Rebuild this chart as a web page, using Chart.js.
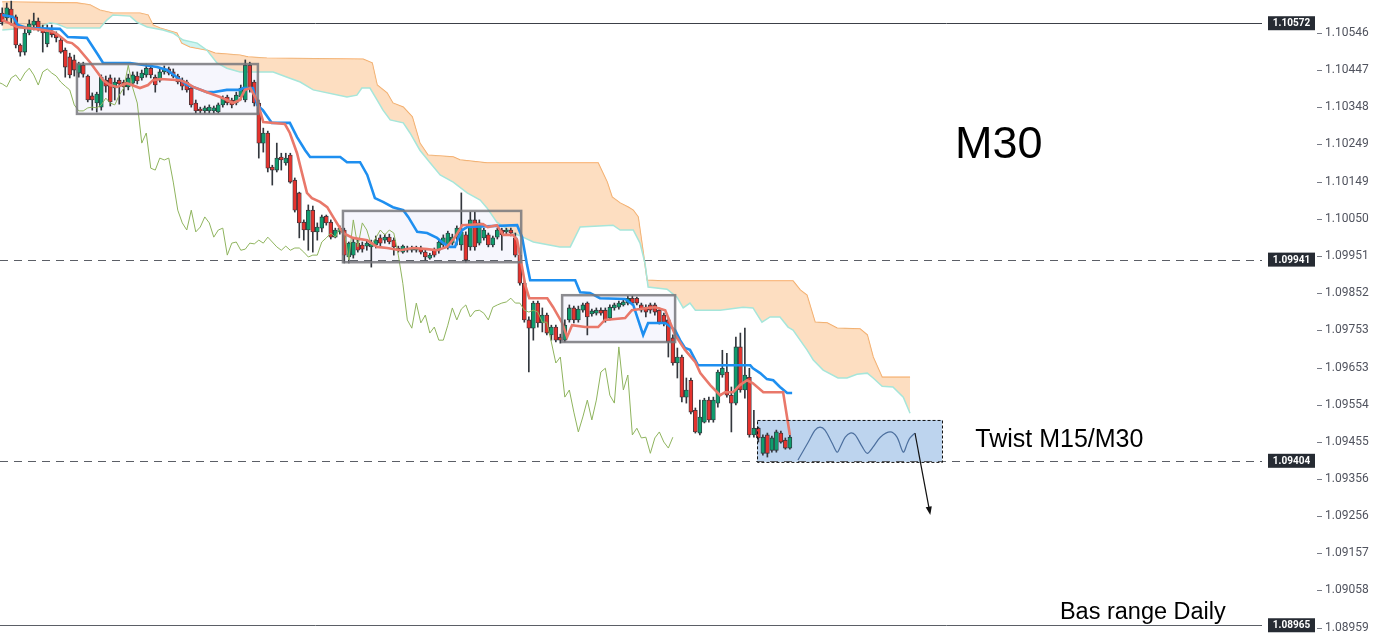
<!DOCTYPE html>
<html>
<head>
<meta charset="utf-8">
<title>EURUSD M30</title>
<script src="https://cdn.jsdelivr.net/npm/chart.js@4.4.1/dist/chart.umd.min.js"></script>
<style>
  html, body { margin: 0; padding: 0; background: #fff; overflow: hidden; }
  canvas { display: block; }
</style>
</head>
<body>
<canvas id="chart" width="1380" height="635"></canvas>
<script>
// price axis ticks and marked levels
const tickValues = [1.10645, 1.10546, 1.10447, 1.10348, 1.10249, 1.10149, 1.10050, 1.09951, 1.09852,
  1.09753, 1.09653, 1.09554, 1.09455, 1.09356, 1.09256, 1.09157, 1.09058, 1.08959];
const levels = [1.10572, 1.09941, 1.09404, 1.08965];

// M30 candles, one per slot
const opens = [
  1.10599, 1.10586, 1.10610, 1.10589, 1.10514, 1.10495, 1.10546, 1.10567, 1.10578, 1.10557,
  1.10517, 1.10549, 1.10543, 1.10527, 1.10500, 1.10482, 1.10474, 1.10439, 1.10460, 1.10431,
  1.10378, 1.10359, 1.10348, 1.10420, 1.10426, 1.10399, 1.10420, 1.10415, 1.10402, 1.10412,
  1.10431, 1.10426, 1.10434, 1.10452, 1.10428, 1.10420, 1.10442, 1.10450, 1.10442, 1.10431,
  1.10420, 1.10415, 1.10399, 1.10359, 1.10343, 1.10338, 1.10338, 1.10338, 1.10335, 1.10354,
  1.10375, 1.10367, 1.10359, 1.10375, 1.10367, 1.10460, 1.10415, 1.10359, 1.10252, 1.10279,
  1.10188, 1.10180, 1.10215, 1.10199, 1.10220, 1.10153, 1.10119, 1.10041, 1.10020, 1.10073,
  1.10015, 1.10025, 1.10057, 1.10041, 1.10001, 1.10015, 1.10020, 1.09948, 1.09953, 1.09985,
  1.09980, 1.09977, 1.09975, 1.09980, 1.09999, 1.09993, 1.10001, 1.09993, 1.09972, 1.09961,
  1.09972, 1.09966, 1.09966, 1.09972, 1.09961, 1.09945, 1.09966, 1.09966, 1.09980, 1.09975,
  1.09985, 1.10001, 1.09980, 1.10007, 1.09975, 1.10047, 1.09985, 1.09999, 1.10007, 1.09980,
  1.10001, 1.10020, 1.10015, 1.10020, 1.09999, 1.09953, 1.09878, 1.09780, 1.09758, 1.09825,
  1.09772, 1.09793, 1.09740, 1.09761, 1.09734, 1.09726, 1.09780, 1.09812, 1.09780, 1.09806,
  1.09825, 1.09796, 1.09798, 1.09806, 1.09806, 1.09785, 1.09812, 1.09814, 1.09820, 1.09825,
  1.09838, 1.09838, 1.09820, 1.09814, 1.09820, 1.09820, 1.09806, 1.09793, 1.09780, 1.09732,
  1.09665, 1.09681, 1.09574, 1.09619, 1.09539, 1.09478, 1.09507, 1.09566, 1.09513, 1.09558,
  1.09633, 1.09641, 1.09579, 1.09558, 1.09708, 1.09593, 1.09627, 1.09473, 1.09491, 1.09424,
  1.09473, 1.09432, 1.09432, 1.09478, 1.09459, 1.09438
];
const highs = [
  1.10613, 1.10626, 1.10631, 1.10594, 1.10517, 1.10557, 1.10581, 1.10599, 1.10586, 1.10567,
  1.10567, 1.10567, 1.10549, 1.10535, 1.10506, 1.10492, 1.10487, 1.10468, 1.10468, 1.10434,
  1.10386, 1.10388, 1.10434, 1.10431, 1.10434, 1.10426, 1.10426, 1.10420, 1.10436, 1.10442,
  1.10442, 1.10447, 1.10463, 1.10460, 1.10434, 1.10452, 1.10458, 1.10455, 1.10450, 1.10436,
  1.10426, 1.10420, 1.10404, 1.10367, 1.10348, 1.10351, 1.10354, 1.10351, 1.10359, 1.10378,
  1.10380, 1.10372, 1.10388, 1.10407, 1.10474, 1.10468, 1.10420, 1.10367, 1.10292, 1.10284,
  1.10193, 1.10252, 1.10225, 1.10225, 1.10225, 1.10159, 1.10121, 1.10047, 1.10087, 1.10084,
  1.10039, 1.10060, 1.10060, 1.10047, 1.10025, 1.10031, 1.10025, 1.09988, 1.09999, 1.09993,
  1.09988, 1.09993, 1.09993, 1.10004, 1.10007, 1.10009, 1.10009, 1.09999, 1.09977, 1.09980,
  1.09977, 1.09977, 1.09977, 1.09977, 1.09966, 1.09958, 1.09972, 1.09993, 1.10007, 1.10017,
  1.10009, 1.10031, 1.10119, 1.10015, 1.10068, 1.10068, 1.10047, 1.10025, 1.10012, 1.10004,
  1.10025, 1.10025, 1.10025, 1.10025, 1.10012, 1.09961, 1.09884, 1.09788, 1.09830, 1.09830,
  1.09812, 1.09798, 1.09766, 1.09766, 1.09742, 1.09780, 1.09820, 1.09817, 1.09817, 1.09825,
  1.09828, 1.09809, 1.09812, 1.09812, 1.09812, 1.09820, 1.09825, 1.09830, 1.09833, 1.09844,
  1.09844, 1.09841, 1.09825, 1.09820, 1.09825, 1.09825, 1.09812, 1.09798, 1.09785, 1.09740,
  1.09705, 1.09686, 1.09625, 1.09625, 1.09545, 1.09566, 1.09571, 1.09574, 1.09574, 1.09646,
  1.09699, 1.09691, 1.09601, 1.09734, 1.09745, 1.09758, 1.09651, 1.09539, 1.09494, 1.09473,
  1.09478, 1.09470, 1.09486, 1.09483, 1.09465, 1.09473
];
const lows = [
  1.10567, 1.10575, 1.10567, 1.10506, 1.10484, 1.10487, 1.10541, 1.10554, 1.10551, 1.10495,
  1.10509, 1.10535, 1.10522, 1.10492, 1.10428, 1.10426, 1.10431, 1.10428, 1.10428, 1.10362,
  1.10340, 1.10335, 1.10340, 1.10388, 1.10351, 1.10367, 1.10356, 1.10380, 1.10394, 1.10404,
  1.10410, 1.10420, 1.10428, 1.10426, 1.10388, 1.10415, 1.10436, 1.10434, 1.10426, 1.10410,
  1.10394, 1.10388, 1.10348, 1.10332, 1.10332, 1.10332, 1.10332, 1.10332, 1.10332, 1.10348,
  1.10354, 1.10346, 1.10354, 1.10367, 1.10362, 1.10388, 1.10351, 1.10212, 1.10228, 1.10175,
  1.10140, 1.10175, 1.10180, 1.10193, 1.10145, 1.10068, 1.09999, 1.09993, 1.09966, 1.09961,
  1.09993, 1.10015, 1.10033, 1.09996, 1.09999, 1.10009, 1.09932, 1.09932, 1.09945, 1.09961,
  1.09961, 1.09966, 1.09921, 1.09972, 1.09977, 1.09985, 1.09983, 1.09953, 1.09961, 1.09958,
  1.09961, 1.09961, 1.09961, 1.09956, 1.09940, 1.09942, 1.09948, 1.09958, 1.09975, 1.09969,
  1.09980, 1.09980, 1.09966, 1.09934, 1.09966, 1.09966, 1.09980, 1.09993, 1.09975, 1.09975,
  1.09996, 1.09966, 1.10009, 1.10004, 1.09948, 1.09873, 1.09774, 1.09641, 1.09726, 1.09761,
  1.09748, 1.09740, 1.09726, 1.09721, 1.09718, 1.09721, 1.09774, 1.09772, 1.09774, 1.09801,
  1.09740, 1.09790, 1.09793, 1.09793, 1.09774, 1.09780, 1.09806, 1.09809, 1.09817, 1.09820,
  1.09820, 1.09820, 1.09801, 1.09788, 1.09798, 1.09793, 1.09769, 1.09764, 1.09681, 1.09659,
  1.09625, 1.09561, 1.09558, 1.09529, 1.09478, 1.09473, 1.09505, 1.09507, 1.09507, 1.09547,
  1.09627, 1.09574, 1.09481, 1.09553, 1.09587, 1.09571, 1.09467, 1.09467, 1.09454, 1.09419,
  1.09414, 1.09427, 1.09427, 1.09451, 1.09435, 1.09435
];
const closes = [
  1.10575, 1.10613, 1.10589, 1.10514, 1.10495, 1.10546, 1.10570, 1.10578, 1.10557, 1.10546,
  1.10549, 1.10541, 1.10533, 1.10495, 1.10455, 1.10434, 1.10447, 1.10463, 1.10436, 1.10367,
  1.10367, 1.10383, 1.10428, 1.10404, 1.10362, 1.10415, 1.10410, 1.10402, 1.10426, 1.10434,
  1.10418, 1.10439, 1.10452, 1.10434, 1.10407, 1.10442, 1.10450, 1.10439, 1.10431, 1.10415,
  1.10404, 1.10394, 1.10354, 1.10338, 1.10338, 1.10346, 1.10348, 1.10346, 1.10354, 1.10372,
  1.10359, 1.10354, 1.10380, 1.10399, 1.10460, 1.10399, 1.10359, 1.10252, 1.10279, 1.10185,
  1.10180, 1.10212, 1.10207, 1.10212, 1.10148, 1.10073, 1.10039, 1.10020, 1.10073, 1.10015,
  1.10028, 1.10055, 1.10039, 1.10001, 1.10020, 1.10025, 1.09953, 1.09985, 1.09988, 1.09966,
  1.09969, 1.09985, 1.09983, 1.09993, 1.09985, 1.10001, 1.09988, 1.09975, 1.09966, 1.09977,
  1.09966, 1.09972, 1.09972, 1.09961, 1.09948, 1.09953, 1.09953, 1.09988, 1.09999, 1.10012,
  1.10001, 1.10025, 1.10015, 1.09940, 1.10047, 1.09975, 1.10039, 1.10020, 1.09980, 1.09999,
  1.10020, 1.10007, 1.10020, 1.10012, 1.09953, 1.09878, 1.09780, 1.09758, 1.09825, 1.09772,
  1.09793, 1.09745, 1.09761, 1.09726, 1.09726, 1.09766, 1.09812, 1.09780, 1.09809, 1.09820,
  1.09788, 1.09804, 1.09806, 1.09798, 1.09780, 1.09814, 1.09820, 1.09825, 1.09828, 1.09838,
  1.09825, 1.09825, 1.09806, 1.09801, 1.09806, 1.09801, 1.09774, 1.09774, 1.09721, 1.09665,
  1.09681, 1.09574, 1.09593, 1.09534, 1.09481, 1.09521, 1.09566, 1.09513, 1.09566, 1.09641,
  1.09651, 1.09579, 1.09558, 1.09708, 1.09593, 1.09633, 1.09473, 1.09491, 1.09465, 1.09467,
  1.09424, 1.09465, 1.09481, 1.09454, 1.09438, 1.09467
];

// Ichimoku lines, [slot, price] at their turning points
const tenkan = [
  [0, 1.10581], [3.3, 1.10562], [5.7, 1.10559], [9.1, 1.10554], [11.3, 1.10549], [12.4, 1.10541],
  [14.4, 1.10522], [15.5, 1.10519], [16.8, 1.10506], [19.5, 1.10468], [21.1, 1.10442], [22.4, 1.10420],
  [23.9, 1.10407], [25.5, 1.10402], [27.7, 1.10412], [30.6, 1.10399], [32.4, 1.10407], [33.5, 1.10420],
  [35.1, 1.10423], [39.5, 1.10420], [41.1, 1.10412], [42.4, 1.10402], [45.5, 1.10388], [48.4, 1.10375],
  [49.9, 1.10367], [51.3, 1.10359], [52.8, 1.10367], [53.9, 1.10394], [55.1, 1.10399], [56.6, 1.10367],
  [58, 1.10308], [62.8, 1.10303], [63.9, 1.10279], [65.5, 1.10225], [66.6, 1.10172], [67.7, 1.10119],
  [68.8, 1.10105], [70.6, 1.10095], [72.2, 1.10081], [73.5, 1.10055], [75.7, 1.10012], [77.9, 1.09999],
  [81.1, 1.09993], [83.3, 1.09975], [85.5, 1.09972], [88.4, 1.09966], [91.3, 1.09972], [94.4, 1.09969],
  [96.6, 1.09966], [98.8, 1.09975], [100.6, 1.10001], [102.2, 1.10033], [106.8, 1.10036], [107.9, 1.10028],
  [109.9, 1.10033], [111.3, 1.10007], [113.5, 1.10007], [114.4, 1.09993], [115.3, 1.09934], [116.2, 1.09873],
  [117.1, 1.09838], [121.1, 1.09838], [122.4, 1.09814], [124.4, 1.09772], [125.5, 1.09734], [126.6, 1.09766],
  [129.5, 1.09761], [132.4, 1.09761], [133.9, 1.09780], [138.4, 1.09785], [139.9, 1.09806], [143.3, 1.09812],
  [145.1, 1.09814], [147.3, 1.09806], [148.8, 1.09761], [149.5, 1.09740], [151.7, 1.09700], [154, 1.09667],
  [155.1, 1.09638], [157.3, 1.09606], [159.5, 1.09579], [160.6, 1.09587], [162.4, 1.09587], [163.9, 1.09606],
  [165.5, 1.09619], [166.8, 1.09611], [169.1, 1.09587], [173.5, 1.09587], [175, 1.09473]
];
const kijun = [
  [0, 1.10594], [2.4, 1.10589], [3.5, 1.10567], [5.5, 1.10559], [12.8, 1.10557], [14.6, 1.10535],
  [18.8, 1.10533], [21.3, 1.10487], [22.4, 1.10466], [28.4, 1.10466], [34.4, 1.10455], [36.6, 1.10447],
  [38.8, 1.10428], [41.1, 1.10407], [42.4, 1.10402], [45.5, 1.10388], [46.8, 1.10388], [49.9, 1.10394],
  [52.8, 1.10394], [53.5, 1.10399], [55.7, 1.10399], [56.6, 1.10354], [57.9, 1.10340], [59.9, 1.10306],
  [63.9, 1.10306], [65.5, 1.10268], [67.3, 1.10233], [68.4, 1.10215], [75.1, 1.10215], [76.6, 1.10201],
  [79.5, 1.10201], [81.1, 1.10167], [82.8, 1.10105], [84.6, 1.10095], [86.8, 1.10081], [89.1, 1.10073],
  [90.2, 1.10055], [92.2, 1.10015], [94.4, 1.10012], [96.6, 1.09999], [98, 1.09985], [99.5, 1.09975],
  [100.6, 1.09975], [101.3, 1.09999], [102.2, 1.10020], [103.3, 1.10028], [114.4, 1.10033], [115.5, 1.10001],
  [116.6, 1.09927], [117.3, 1.09886], [127.3, 1.09886], [128.4, 1.09854], [130.6, 1.09852], [132.8, 1.09838],
  [138.4, 1.09836], [140.2, 1.09820], [142.4, 1.09740], [143.5, 1.09772], [147.3, 1.09772], [149.5, 1.09753],
  [150.6, 1.09726], [151.7, 1.09705], [152.8, 1.09700], [154.6, 1.09659], [166.2, 1.09659], [166.8, 1.09651],
  [168.4, 1.09638], [169.9, 1.09622], [171.3, 1.09619], [172.8, 1.09601], [174.4, 1.09585], [175.5, 1.09585]
];
const spanA = [
  [0, 1.10554], [8.4, 1.10562], [10.6, 1.10573], [12.2, 1.10570], [14.4, 1.10559], [21.7, 1.10559],
  [23.3, 1.10581], [24.6, 1.10594], [28.4, 1.10591], [29.9, 1.10575], [32.2, 1.10562], [35.7, 1.10554],
  [37.9, 1.10546], [40.2, 1.10527], [43.3, 1.10519], [45.5, 1.10500], [47.7, 1.10466], [49.9, 1.10452],
  [52.8, 1.10442], [60.2, 1.10442], [63.3, 1.10428], [66.2, 1.10415], [69.1, 1.10394], [76.6, 1.10375],
  [78.8, 1.10380], [79.9, 1.10399], [81.7, 1.10399], [83.3, 1.10367], [84.6, 1.10340], [86.2, 1.10314],
  [89.1, 1.10306], [90.6, 1.10279], [92.8, 1.10233], [95.1, 1.10199], [97.3, 1.10167], [100.2, 1.10148],
  [103.3, 1.10119], [106.2, 1.10100], [107.7, 1.10079], [109.9, 1.10041], [113.5, 1.10012], [115.7, 1.10001],
  [118, 1.09988], [123.9, 1.09975], [126.2, 1.09975], [128.4, 1.10028], [135.7, 1.10033], [137.3, 1.10020],
  [140.2, 1.10020], [141.7, 1.09985], [142.8, 1.09932], [143.5, 1.09868], [147.7, 1.09862], [149.9, 1.09841],
  [151.3, 1.09812], [152.8, 1.09825], [154, 1.09806], [159.5, 1.09806], [164.6, 1.09814], [166.8, 1.09812],
  [168.8, 1.09774], [170.6, 1.09788], [172.8, 1.09788], [174.6, 1.09761], [175.7, 1.09753], [178.8, 1.09700],
  [180.2, 1.09673], [182.4, 1.09646], [185.7, 1.09625], [187.7, 1.09625], [189.9, 1.09635], [192.2, 1.09638],
  [193.5, 1.09625], [195.5, 1.09603], [197.9, 1.09601], [200.2, 1.09574], [201.7, 1.09531]
];
const spanB = [
  [0, 1.10629], [16.6, 1.10626], [19.5, 1.10621], [21.7, 1.10607], [24.6, 1.10599], [30.6, 1.10599],
  [32.4, 1.10594], [33.5, 1.10567], [35.1, 1.10559], [38.8, 1.10546], [39.9, 1.10519], [41.7, 1.10509],
  [45.5, 1.10500], [47.3, 1.10492], [52.8, 1.10487], [54.6, 1.10482], [58.8, 1.10479], [80.2, 1.10476],
  [82.2, 1.10466], [83.3, 1.10407], [85.5, 1.10386], [86.8, 1.10359], [89.1, 1.10348], [91.1, 1.10322],
  [92.8, 1.10252], [94.6, 1.10220], [100.2, 1.10215], [101.7, 1.10207], [107.7, 1.10199], [132.4, 1.10199],
  [134.4, 1.10148], [135.5, 1.10108], [137.3, 1.10092], [139.1, 1.10081], [140.2, 1.10073], [141.3, 1.10055],
  [143.3, 1.09886], [146.8, 1.09884], [175.7, 1.09884], [177.3, 1.09860], [178.8, 1.09846], [180.6, 1.09774],
  [183.3, 1.09772], [185.5, 1.09758], [190.6, 1.09756], [192.2, 1.09740], [193.5, 1.09681], [195.5, 1.09627],
  [201.7, 1.09627]
];
const chikouShift = 26;

// drawn marks: consolidation boxes [from slot, to slot, top, bottom], twist zone and its sketch
const rangeBoxes = [[16.6, 56.8, 1.10463, 1.10330], [75.7, 115.3, 1.10071, 1.09934], [124.4, 149.5, 1.09846, 1.09721]];
const twistBox = [167.7, 208.8, 1.09513, 1.09401];
const twistPath = [
  [176.8, 1.09406], [179.1, 1.09454], [180.6, 1.09486], [181.7, 1.09494], [182.8, 1.09486], [184.4, 1.09451],
  [185.5, 1.09427], [186.2, 1.09441], [187.3, 1.09467], [188.4, 1.09478], [189.5, 1.09473], [191.1, 1.09441],
  [192.2, 1.09424], [193.5, 1.09441], [195.1, 1.09467], [197.3, 1.09481], [198.8, 1.09467], [200.2, 1.09427],
  [201.1, 1.09451], [201.7, 1.09465], [202.8, 1.09478]
];
const arrow = [[202.8, 1.09478], [206.2, 1.09259]];
const notes = [
  { text: "M30", x: 211.7, y: 1.10212, size: 45 },
  { text: "Twist M15/M30", x: 216.2, y: 1.09441, size: 25 },
  { text: "Bas range Daily", x: 235, y: 1.08981, size: 23.5 }
];

const UP = "#0f9d6e";
const DOWN = "#e5332e";
const EDGE = "#33373d";

const pts = (list) => list.map(([x, y]) => ({ x, y }));
const candleColor = (c) => (closes[c.dataIndex] >= opens[c.dataIndex] ? UP : DOWN);

const overlay = {
  id: "overlay",
  beforeDatasetsDraw(chart) {
    const { ctx, chartArea: a, scales: { x, y } } = chart;
    ctx.save();
    ctx.fillStyle = "rgba(238,238,252,0.55)";
    rangeBoxes.forEach(([x0, x1, p0, p1]) => {
      ctx.fillRect(x.getPixelForValue(x0), y.getPixelForValue(p0),
        x.getPixelForValue(x1) - x.getPixelForValue(x0), y.getPixelForValue(p1) - y.getPixelForValue(p0));
    });
    const [bx0, bx1, bp0, bp1] = twistBox;
    ctx.fillStyle = "#bdd4ee";
    ctx.fillRect(x.getPixelForValue(bx0), y.getPixelForValue(bp0),
      x.getPixelForValue(bx1) - x.getPixelForValue(bx0), y.getPixelForValue(bp1) - y.getPixelForValue(bp0));

    ctx.lineWidth = 1;
    levels.forEach((p, i) => {
      const py = Math.round(y.getPixelForValue(p)) + 0.5;
      ctx.strokeStyle = i === 0 ? "#3c4048" : "#5b5f66";
      ctx.setLineDash(i === 1 || i === 2 ? [8, 6] : []);
      ctx.beginPath();
      ctx.moveTo(a.left, py);
      ctx.lineTo(a.right, py);
      ctx.stroke();
    });
    ctx.restore();
  },
  afterDatasetsDraw(chart) {
    const { ctx, scales: { x, y } } = chart;
    ctx.save();
    ctx.strokeStyle = "rgba(120,120,124,0.85)";
    ctx.lineWidth = 2.5;
    rangeBoxes.forEach(([x0, x1, p0, p1]) => {
      ctx.strokeRect(x.getPixelForValue(x0), y.getPixelForValue(p0),
        x.getPixelForValue(x1) - x.getPixelForValue(x0), y.getPixelForValue(p1) - y.getPixelForValue(p0));
    });
    const [bx0, bx1, bp0, bp1] = twistBox;
    ctx.strokeStyle = "#111";
    ctx.lineWidth = 1;
    ctx.setLineDash([3, 2]);
    ctx.strokeRect(x.getPixelForValue(bx0) + 0.5, y.getPixelForValue(bp0) + 0.5,
      x.getPixelForValue(bx1) - x.getPixelForValue(bx0), y.getPixelForValue(bp1) - y.getPixelForValue(bp0));
    ctx.setLineDash([]);

    // arrow out of the twist zone
    const ax0 = x.getPixelForValue(arrow[0][0]), ay0 = y.getPixelForValue(arrow[0][1]);
    const ax1 = x.getPixelForValue(arrow[1][0]), ay1 = y.getPixelForValue(arrow[1][1]);
    const ang = Math.atan2(ay1 - ay0, ax1 - ax0);
    ctx.strokeStyle = "#111";
    ctx.lineWidth = 1.2;
    ctx.beginPath();
    ctx.moveTo(ax0, ay0);
    ctx.lineTo(ax1 - 6 * Math.cos(ang), ay1 - 6 * Math.sin(ang));
    ctx.stroke();
    ctx.fillStyle = "#111";
    ctx.beginPath();
    ctx.moveTo(ax1, ay1);
    ctx.lineTo(ax1 - 9 * Math.cos(ang - 0.35), ay1 - 9 * Math.sin(ang - 0.35));
    ctx.lineTo(ax1 - 9 * Math.cos(ang + 0.35), ay1 - 9 * Math.sin(ang + 0.35));
    ctx.closePath();
    ctx.fill();

    ctx.fillStyle = "#000";
    ctx.textBaseline = "alphabetic";
    ctx.textAlign = "left";
    notes.forEach((n) => {
      ctx.font = n.size + 'px "Liberation Sans", Arial, sans-serif';
      ctx.fillText(n.text, x.getPixelForValue(n.x), y.getPixelForValue(n.y));
    });
    ctx.restore();
  },
  afterDraw(chart) {
    const { ctx, chartArea: a, scales: { y } } = chart;
    ctx.save();
    ctx.strokeStyle = "#787b86";
    ctx.lineWidth = 1;
    tickValues.forEach((v) => {
      const py = Math.round(y.getPixelForValue(v)) + 0.5;
      ctx.beginPath();
      ctx.moveTo(a.right + 55, py);
      ctx.lineTo(a.right + 60, py);
      ctx.stroke();
    });
    ctx.font = 'bold 10px Roboto, "DejaVu Sans", sans-serif';
    ctx.textAlign = "center";
    ctx.textBaseline = "middle";
    levels.forEach((p) => {
      const py = y.getPixelForValue(p);
      ctx.fillStyle = "#262b33";
      ctx.fillRect(a.right + 6, py - 7, 47, 14);
      ctx.fillStyle = "#fff";
      ctx.fillText(p.toFixed(5), a.right + 29.5, py + 0.5);
    });
    ctx.restore();
  }
};

Chart.defaults.font.family = "Roboto";

new Chart(document.getElementById("chart"), {
  type: "bar",
  data: {
    datasets: [
      {
        type: "line", label: "Tenkan", data: pts(tenkan), order: 1,
        borderColor: "#e9786a", borderWidth: 2.6, pointRadius: 0, tension: 0
      },
      {
        type: "line", label: "Kijun", data: pts(kijun), order: 1,
        borderColor: "#1e8ff0", borderWidth: 2.6, pointRadius: 0, tension: 0
      },
      {
        type: "line", label: "Chikou", order: 1,
        data: closes.map((c, i) => ({ x: i - chikouShift, y: c })),
        borderColor: "#8fb45e", borderWidth: 1, pointRadius: 0, tension: 0
      },
      {
        type: "line", label: "Twist", data: pts(twistPath), order: 1,
        borderColor: "#4c6f9e", borderWidth: 1.2, pointRadius: 0, tension: 0.3
      },
      {
        label: "Bodies", order: 2, grouped: false,
        data: opens.map((o, i) => ({ x: i, y: [o, closes[i]] })),
        backgroundColor: candleColor, borderColor: EDGE, borderWidth: 0.8,
        borderSkipped: false, barThickness: 4, minBarLength: 1
      },
      {
        label: "Wicks", order: 2, grouped: false,
        data: lows.map((l, i) => ({ x: i, y: [l, highs[i]] })),
        backgroundColor: EDGE, borderWidth: 0, barThickness: 1
      },
      {
        type: "line", label: "Span A", data: pts(spanA), order: 3,
        borderColor: "#a6e6da", borderWidth: 1.5, pointRadius: 0, tension: 0,
        fill: { target: 7, above: "rgba(190,240,236,0.75)", below: "rgba(252,214,178,0.8)" }
      },
      {
        type: "line", label: "Span B", data: pts(spanB), order: 3,
        borderColor: "#f9a65d", borderWidth: 1.3, pointRadius: 0, tension: 0
      }
    ]
  },
  options: {
    responsive: false,
    animation: false,
    layout: { padding: 0 },
    plugins: { legend: { display: false }, tooltip: { enabled: false } },
    scales: {
      x: { type: "linear", min: -0.5, max: 279.9, offset: false, display: false },
      y: {
        position: "right",
        min: 1.08939,
        max: 1.10634,
        grid: { display: false, drawTicks: false },
        border: { display: false },
        afterBuildTicks: (scale) => { scale.ticks = tickValues.map((v) => ({ value: v })); },
        afterFit: (scale) => { scale.width = 118; scale.paddingTop = 0; scale.paddingBottom = 0; },
        ticks: {
          autoSkip: false,
          padding: 63,
          color: "#50535e",
          font: { size: 12 },
          callback: (v) => Number(v).toFixed(5)
        }
      }
    }
  },
  plugins: [overlay]
});
</script>
</body>
</html>
